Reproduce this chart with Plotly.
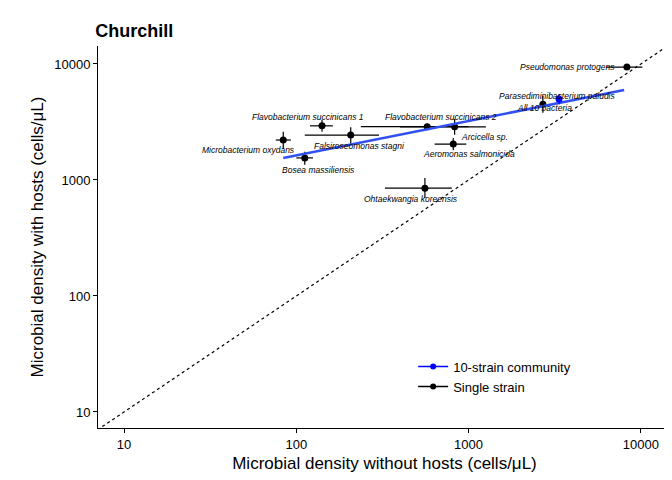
import numpy as np
import plotly.graph_objects as go

names = ["Pseudomonas protogens", "Parasediminibacterium paludis", "Flavobacterium succinicans 1",
         "Falsiroseomonas stagni", "Microbacterium oxydans", "Bosea massiliensis",
         "Flavobacterium succinicans 2", "Arcicella sp.", "Aeromonas salmonicida",
         "Ohtaekwangia koreensis", "All 10 bacteria"]
x = [8300, 3350, 141, 207, 84, 112, 575, 830, 815, 558, 2700]
y = [9400, 5000, 2930, 2440, 2210, 1550, 2880, 2870, 2040, 850, 4500]
x_lo = [6300, 3300, 120, 112, 76, 100, 237, 400, 635, 327, 2600]
x_hi = [10200, 3400, 163, 302, 93, 125, 1000, 1260, 970, 800, 2800]
y_lo = [8900, 4500, 2600, 2050, 1850, 1350, 2700, 2450, 1800, 700, 3800]
y_hi = [9900, 5500, 3300, 2850, 2600, 1750, 3050, 3350, 2300, 1040, 5300]
# label positions (data coords)
lab_x = [3770, 3300, 117, 234, 52.6, 135, 690, 1245, 1005, 464, 2770]
lab_y = [9430, 5300, 3490, 1960, 1810, 1220, 3490, 2350, 1675, 686, 4180]

comm_x = [3350]
comm_y = [5000]
fit_x = [84, 8000]
fit_y = [1550, 5970]

ticks = [10, 100, 1000, 10000]
tick_text = ["10", "100", "1000", "10000"]

single = [i for i in range(len(names)) if i != 1]

fig = go.Figure()
fig.add_trace(go.Scatter(x=[7, 14000], y=[7, 14000], mode="lines",
                         line=dict(color="black", dash="dot", width=1.2),
                         showlegend=False, hoverinfo="skip"))
sx = [x[i] for i in single]
sy = [y[i] for i in single]
fig.add_trace(go.Scatter(
    x=sx, y=sy, mode="markers", showlegend=False,
    marker=dict(color="black", size=7),
    error_x=dict(type="data", symmetric=False, color="black", width=0, thickness=1.2,
                 array=[x_hi[i] - x[i] for i in single], arrayminus=[x[i] - x_lo[i] for i in single]),
    error_y=dict(type="data", symmetric=False, color="black", width=0, thickness=1.2,
                 array=[y_hi[i] - y[i] for i in single], arrayminus=[y[i] - y_lo[i] for i in single]),
))
fig.add_trace(go.Scatter(x=fit_x, y=fit_y, mode="lines", line=dict(color="#3050f0", width=2.5),
                         showlegend=False))
fig.add_trace(go.Scatter(
    x=comm_x, y=comm_y, mode="markers", showlegend=False,
    marker=dict(color="blue", size=7),
    error_y=dict(type="data", symmetric=False, color="blue", width=0, thickness=1.2,
                 array=[y_hi[1] - y[1]], arrayminus=[y[1] - y_lo[1]]),
))
# legend entries
fig.add_trace(go.Scatter(x=[None], y=[None], mode="lines+markers", name="Single strain",
                         line=dict(color="black", width=1.5), marker=dict(color="black", size=6)))
fig.add_trace(go.Scatter(x=[None], y=[None], mode="lines+markers", name="10-strain community",
                         line=dict(color="blue", width=1.5), marker=dict(color="blue", size=6)))

for i, n in enumerate(names):
    fig.add_annotation(x=np.log10(lab_x[i]), y=np.log10(lab_y[i]), text="<i>%s</i>" % n,
                       showarrow=False, font=dict(size=8.5, color="black"))

axis = dict(type="log", showgrid=False, zeroline=False, showline=True, linecolor="black",
            ticks="outside", tickcolor="black", ticklen=4, tickvals=ticks, ticktext=tick_text,
            tickfont=dict(size=13, color="black"), title_font=dict(size=17, color="black"),
            automargin=False, title_standoff=6)
fig.update_xaxes(axis, range=[0.849, 4.175], title_text="Microbial density without hosts (cells/μL)")
fig.update_yaxes(axis, range=[0.862, 4.155], title_text="Microbial density with hosts (cells/μL)")

fig.update_layout(
    width=672, height=480, plot_bgcolor="white", paper_bgcolor="white",
    font=dict(family="Liberation Sans, Arial", color="black"),
    margin=dict(l=90, r=9, t=38, b=60),
    title=dict(text="<b>Churchill</b>", x=0.13, xanchor="left", y=0.965, font=dict(size=18)),
    legend=dict(x=0.55, y=0.2, xanchor="left", yanchor="top", font=dict(size=13),
                bgcolor="rgba(0,0,0,0)", traceorder="reversed"),
)
fig.write_html("out.html")
